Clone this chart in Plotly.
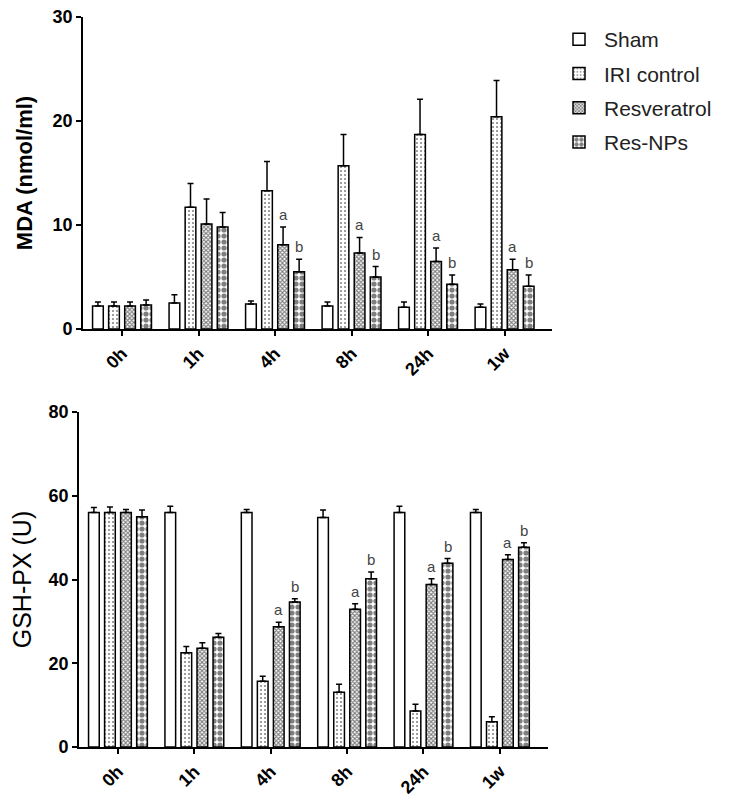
import plotly.graph_objects as go

categories = ["0h", "1h", "4h", "8h", "24h", "1w"]
groups = ["Sham", "IRI control", "Resveratrol", "Res-NPs"]

# MDA (nmol/ml)
mda_sham = [2.2, 2.5, 2.4, 2.2, 2.1, 2.1]
mda_sham_err = [0.4, 0.8, 0.3, 0.4, 0.5, 0.3]
mda_iri = [2.2, 11.7, 13.3, 15.7, 18.7, 20.4]
mda_iri_err = [0.4, 2.3, 2.8, 3.0, 3.4, 3.5]
mda_res = [2.2, 10.1, 8.1, 7.3, 6.5, 5.7]
mda_res_err = [0.4, 2.4, 1.7, 1.5, 1.3, 1.0]
mda_nps = [2.3, 9.8, 5.5, 5.0, 4.3, 4.1]
mda_nps_err = [0.5, 1.4, 1.2, 1.0, 0.9, 1.1]

# GSH-PX (U)
gsh_sham = [56.0, 56.0, 56.0, 54.8, 56.0, 56.0]
gsh_sham_err = [1.2, 1.5, 0.7, 1.8, 1.5, 0.7]
gsh_iri = [56.0, 22.5, 15.7, 13.1, 8.6, 6.0]
gsh_iri_err = [1.3, 1.5, 1.2, 1.9, 1.6, 1.2]
gsh_res = [56.0, 23.6, 28.7, 32.9, 38.8, 44.8]
gsh_res_err = [0.7, 1.3, 1.1, 1.3, 1.4, 1.1]
gsh_nps = [55.0, 26.2, 34.6, 40.2, 43.9, 47.7]
gsh_nps_err = [1.6, 0.9, 0.8, 1.6, 1.1, 1.1]

res_sig = ["", "", "a", "a", "a", "a"]
nps_sig = ["", "", "b", "b", "b", "b"]

FONT = "Arial, Liberation Sans, sans-serif"
W, H = 724, 804   # page body has an 8px margin
PAD = 8

def px_x(a, b):
    return [(a - PAD) / W, (b - PAD) / W]

def px_y(top, bottom):
    return [1 - (bottom - PAD) / H, 1 - (top - PAD) / H]

patterns = [
    dict(shape=""),
    dict(shape=".", size=4, solidity=0.2, fgcolor="black"),
    dict(shape="x", size=3, solidity=0.6, fgcolor="black"),
    dict(shape=".", size=6, solidity=0.6, fgcolor="black"),
]
offsets = [(k - 1.5) * 0.21 for k in range(4)]
xpos = list(range(len(categories)))

fig = go.Figure()

panels = [
    ("x", "y", [mda_sham, mda_iri, mda_res, mda_nps],
     [mda_sham_err, mda_iri_err, mda_res_err, mda_nps_err]),
    ("x2", "y2", [gsh_sham, gsh_iri, gsh_res, gsh_nps],
     [gsh_sham_err, gsh_iri_err, gsh_res_err, gsh_nps_err]),
]
sigs = [None, None, res_sig, nps_sig]

annotations = []
for p, (xa, ya, vals, errs) in enumerate(panels):
    for k in range(4):
        fig.add_trace(go.Bar(
            x=[i + offsets[k] for i in xpos], y=vals[k],
            width=0.14, name=groups[k], legendgroup=groups[k],
            showlegend=(p == 0), xaxis=xa, yaxis=ya,
            marker=dict(color="white", line=dict(color="black", width=1.5),
                        pattern=patterns[k]),
            error_y=dict(type="data", array=errs[k], symmetric=False,
                         arrayminus=[0] * len(categories),
                         color="black", thickness=1.5, width=3),
        ))
        if sigs[k]:
            for i, s in enumerate(sigs[k]):
                if s:
                    annotations.append(dict(
                        x=i + offsets[k], y=vals[k][i] + errs[k][i],
                        xref=xa, yref=ya, text=s, showarrow=False,
                        yanchor="bottom", yshift=2,
                        font=dict(family=FONT, size=15, color="#444")))

axis_common = dict(showline=True, linecolor="black", linewidth=1.8,
                   ticks="outside", tickcolor="black", ticklen=5, tickwidth=1.8,
                   showgrid=False, zeroline=False, automargin=False,
                   ticklabeloverflow="allow")
tick_x = dict(size=18, weight="bold")
tick_y = dict(size=18, weight="bold")

fig.update_layout(
    width=W, height=H,
    margin=dict(l=0, r=0, t=0, b=0),
    paper_bgcolor="white", plot_bgcolor="white",
    barmode="overlay",
    font=dict(family=FONT, color="black"),
    annotations=annotations,
    xaxis=dict(domain=px_x(83, 552), range=[-0.51, 5.62],
               tickvals=xpos, ticktext=categories, tickangle=-45,
               tickfont=tick_x, anchor="y", **axis_common),
    yaxis=dict(domain=px_y(17, 329), range=[0, 30],
               tickvals=[0, 10, 20, 30], tickfont=tick_y,
               title=dict(text="MDA (nmol/ml)", font=dict(size=22, weight="bold"),
                          standoff=14),
               anchor="x", **axis_common),
    xaxis2=dict(domain=px_x(79, 548), range=[-0.51, 5.63],
                tickvals=xpos, ticktext=categories, tickangle=-45,
                tickfont=tick_x, anchor="y2", **axis_common),
    yaxis2=dict(domain=px_y(412, 747), range=[0, 80],
                tickvals=[0, 20, 40, 60, 80], tickfont=tick_y,
                title=dict(text="GSH-PX (U)", font=dict(size=25), standoff=12),
                anchor="x2", **axis_common),
    legend=dict(x=(554 - PAD) / W, y=1 - (19 - PAD) / H, xanchor="left", yanchor="top",
                font=dict(size=21, color="#222"), tracegroupgap=4,
                traceorder="grouped", bgcolor="rgba(0,0,0,0)", itemwidth=40),
)

fig.write_html("out.html")
